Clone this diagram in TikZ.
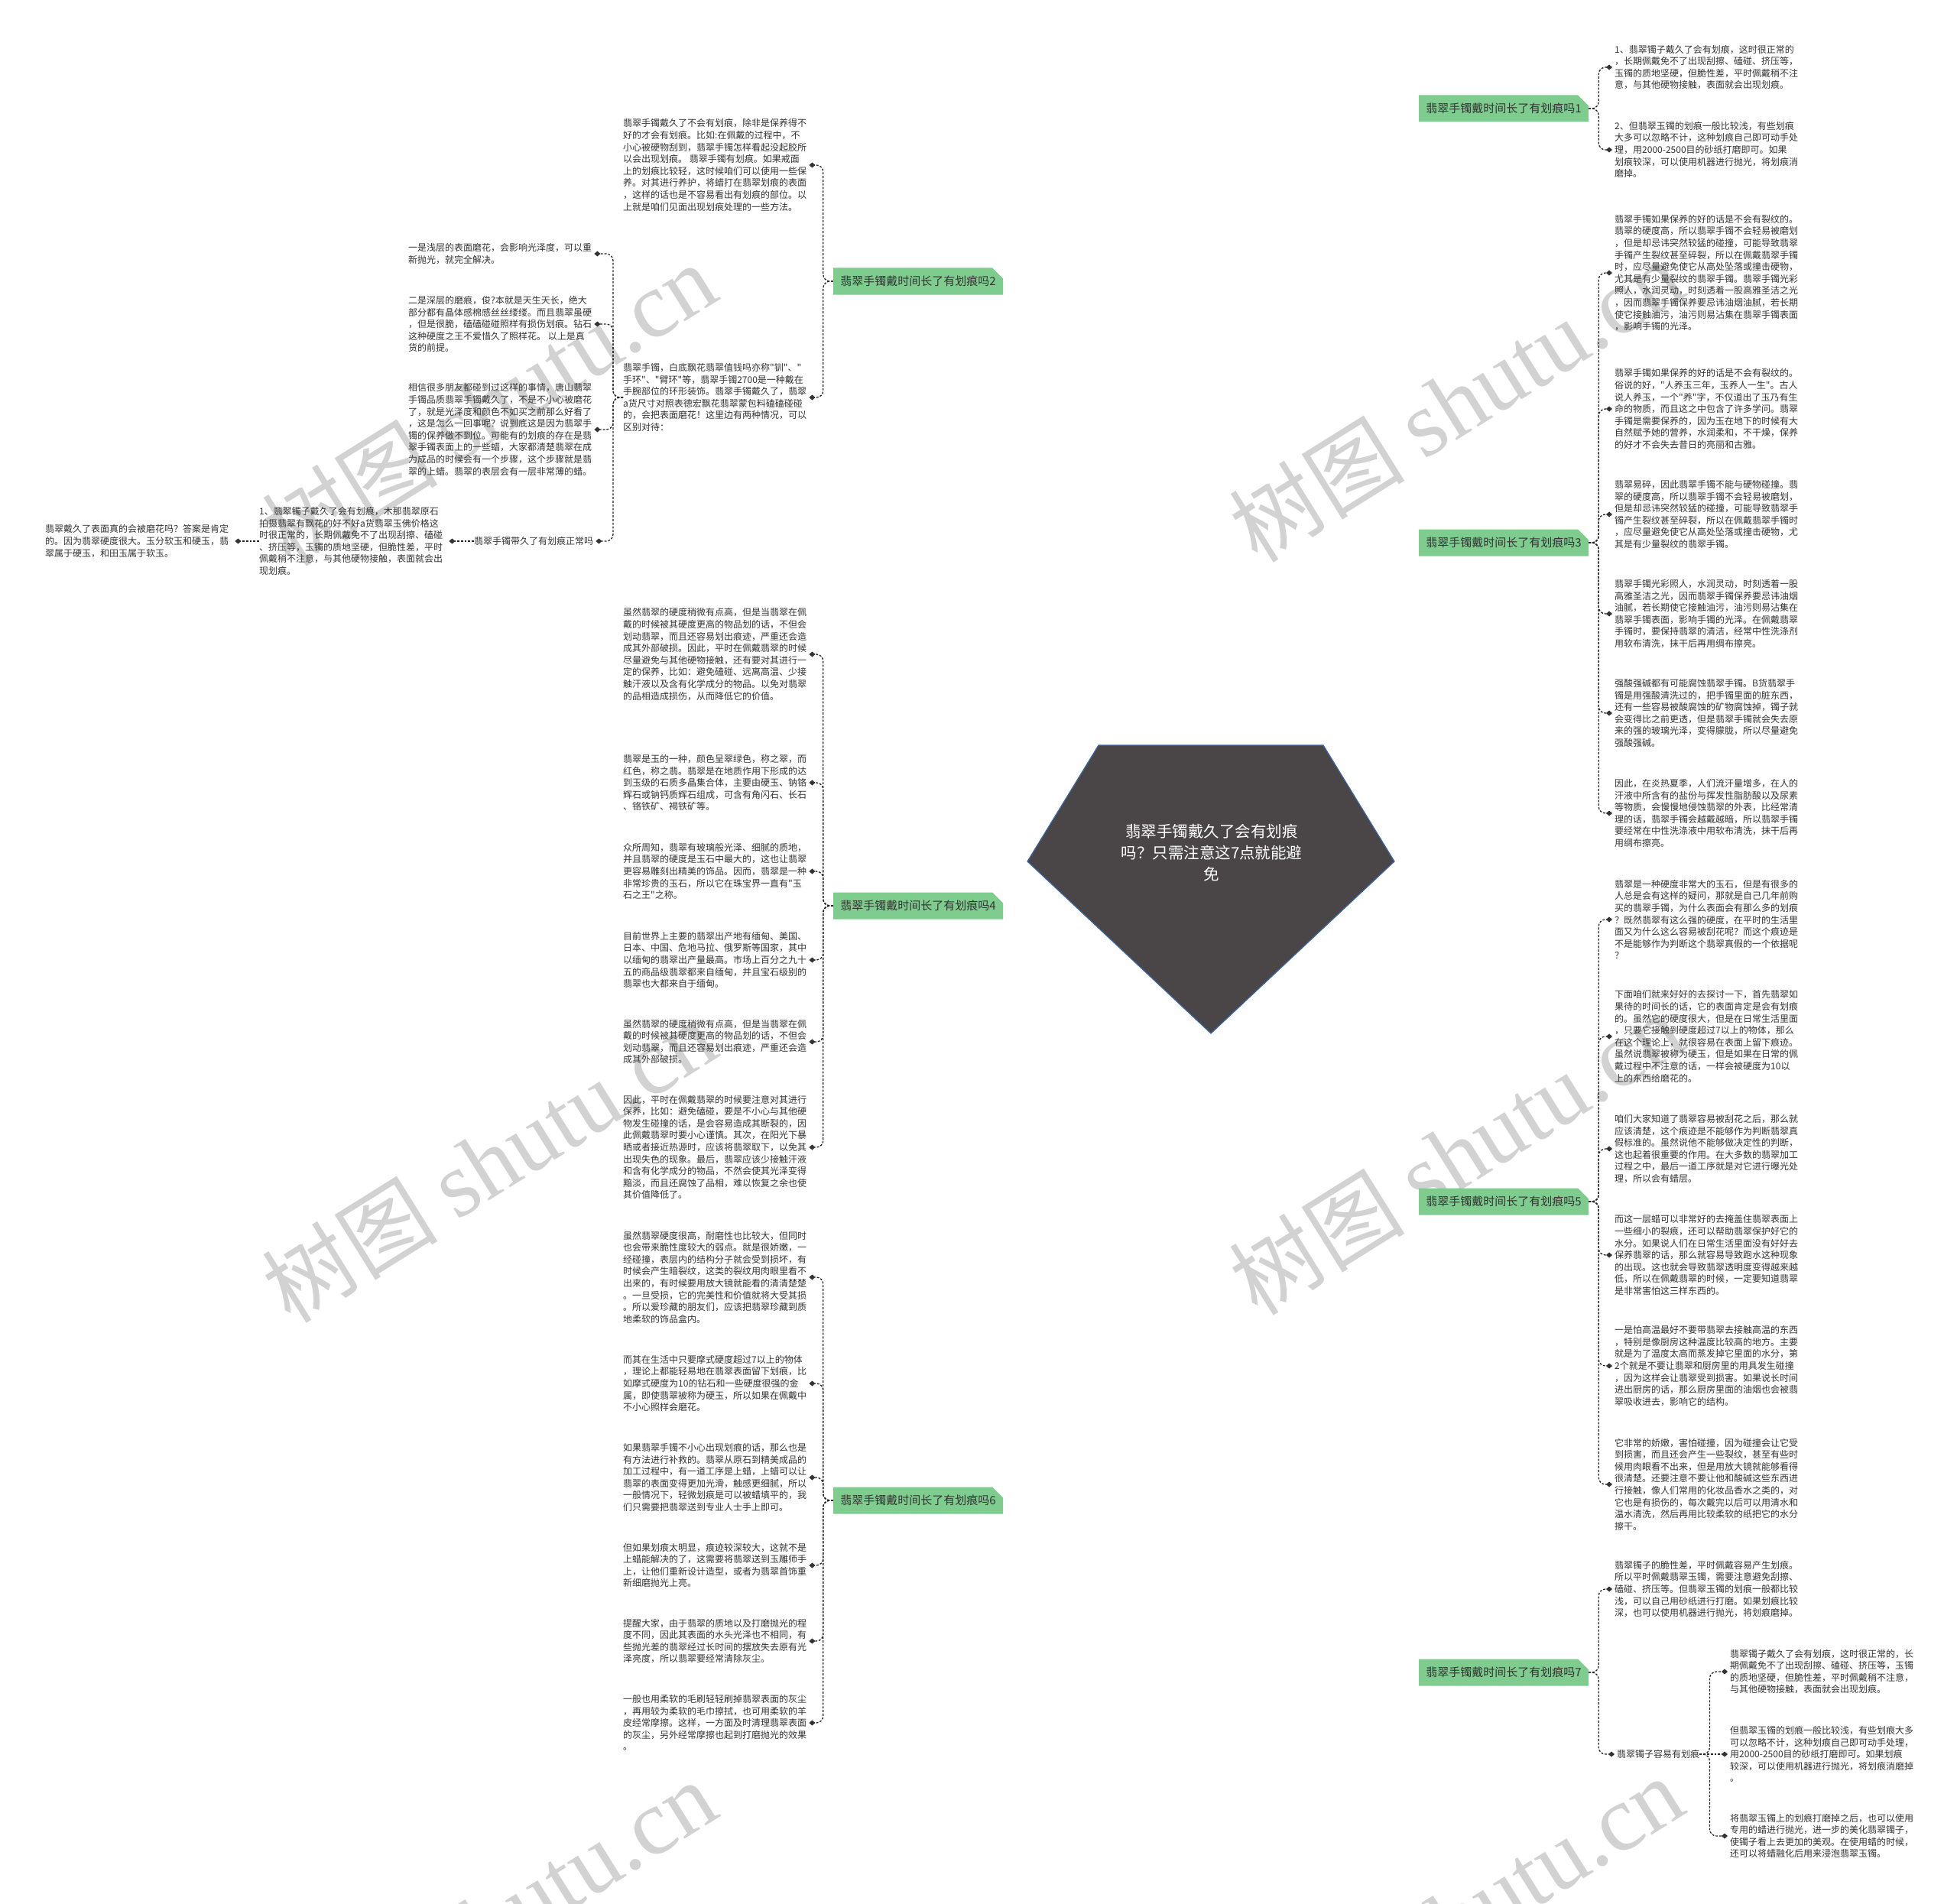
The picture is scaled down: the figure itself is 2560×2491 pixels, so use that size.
\documentclass[tikz,border=0pt]{standalone}
\usepackage{fontspec}
\newfontfamily\cjk{Noto Sans CJK SC}
\newfontfamily\wmserif{Liberation Serif}
\usetikzlibrary{arrows.meta,backgrounds,shapes.misc}
\definecolor{txt}{HTML}{333333}
\definecolor{lbl}{HTML}{7FCC8F}
\definecolor{rootfill}{HTML}{4A4546}
\definecolor{rootedge}{HTML}{3A68A8}
\definecolor{wm}{HTML}{C4C4C4}
\tikzset{
  body/.style={font=\cjk\fontsize{12}{15.6}\selectfont, text=txt, align=left, inner sep=0pt, anchor=west},
  lab/.style={font=\cjk\fontsize{15}{16}\selectfont, text=txt, fill=lbl, chamfered rectangle, chamfered rectangle corners=north east, chamfered rectangle xsep=7pt, chamfered rectangle ysep=7pt, minimum width=222pt, minimum height=35pt, inner sep=0pt},
  conn/.style={draw=black!85, line width=1.3pt, dash pattern=on 2.8pt off 2pt},
  kid/.style={conn, rounded corners=9pt, -{Diamond[length=8pt,width=7pt,color=black!80]}},
  wmark/.style={text=wm, rotate=32, opacity=0.75, inner sep=0pt}
}
\newcommand\rkid[2]{\draw[kid] (#1.east) -- ++(13,0) |- ([xshift=-3pt]#2.west);}
\newcommand\lkid[2]{\draw[kid] (#1.west) -- ++(-13,0) |- ([xshift=3pt]#2.east);}
\begin{document}
\begin{tikzpicture}[x=1pt,y=-1pt]
\fill[white] (0,0) rectangle (2560,2491);
\useasboundingbox (0,0) rectangle (2560,2491);

% watermarks
\foreach \n/\x/\y in {1/640/530, 2/1905/525, 3/640/1520, 4/1905/1510, 5/640/2515, 6/1905/2510}{
  \node[wmark] (wm\n) at (\x,\y) {\cjk\fontsize{115}{120}\selectfont 树图 \wmserif\fontsize{122}{122}\selectfont shutu.cn};
}

% root
\filldraw[fill=rootfill, draw=rootedge, line width=1.2pt] (1437,975) -- (1731,975) -- (1824,1127) -- (1584,1352) -- (1344,1127) -- cycle;
\node[font=\cjk\fontsize{20.5}{28}\selectfont, text=white, align=center, inner sep=0pt] (root) at (1585,1116) {翡翠手镯戴久了会有划痕\\吗？只需注意这7点就能避\\免};
\coordinate (rc) at (1585,1163);

% labels
\node[lab] (L1) at (1967,142) {翡翠手镯戴时间长了有划痕吗1};
\node[lab] (L3) at (1967,710) {翡翠手镯戴时间长了有划痕吗3};
\node[lab] (L5) at (1967,1572) {翡翠手镯戴时间长了有划痕吗5};
\node[lab] (L7) at (1967,2188) {翡翠手镯戴时间长了有划痕吗7};
\node[lab] (L2) at (1201,368) {翡翠手镯戴时间长了有划痕吗2};
\node[lab] (L4) at (1201,1185) {翡翠手镯戴时间长了有划痕吗4};
\node[lab] (L6) at (1201,1963) {翡翠手镯戴时间长了有划痕吗6};

% root connectors (behind root)
\begin{pgfonlayer}{background}
\draw[kid] (rc) .. controls (1585,300) and (1620,142) .. ([xshift=-3pt]L1.west);
\draw[kid] (rc) .. controls (1585,760) and (1640,710) .. ([xshift=-3pt]L3.west);
\draw[kid] (rc) .. controls (1585,1520) and (1640,1572) .. ([xshift=-3pt]L5.west);
\draw[kid] (rc) .. controls (1585,2100) and (1620,2188) .. ([xshift=-3pt]L7.west);
\draw[kid] (rc) .. controls (1585,450) and (1550,368) .. ([xshift=3pt]L2.east);
\draw[kid] (1585,1185) -- ([xshift=3pt]L4.east);
\draw[kid] (rc) .. controls (1585,1880) and (1550,1963) .. ([xshift=3pt]L6.east);
\end{pgfonlayer}

% ---------- right side ----------
\node[body] (r1a) at (2112,88) {1、翡翠镯子戴久了会有划痕，这时很正常的\\，长期佩戴免不了出现刮擦、磕碰、挤压等，\\玉镯的质地坚硬，但脆性差，平时佩戴稍不注\\意，与其他硬物接触，表面就会出现划痕。};
\node[body] (r1b) at (2112,196) {2、但翡翠玉镯的划痕一般比较浅，有些划痕\\大多可以忽略不计，这种划痕自己即可动手处\\理，用2000-2500目的砂纸打磨即可。如果\\划痕较深，可以使用机器进行抛光，将划痕消\\磨掉。};
\rkid{L1}{r1a}\rkid{L1}{r1b}

\node[body] (r3a) at (2112,357) {翡翠手镯如果保养的好的话是不会有裂纹的。\\翡翠的硬度高，所以翡翠手镯不会轻易被磨划\\，但是却忌讳突然较猛的碰撞，可能导致翡翠\\手镯产生裂纹甚至碎裂，所以在佩戴翡翠手镯\\时，应尽量避免使它从高处坠落或撞击硬物，\\尤其是有少量裂纹的翡翠手镯。翡翠手镯光彩\\照人，水润灵动，时刻透着一股高雅圣洁之光\\，因而翡翠手镯保养要忌讳油烟油腻，若长期\\使它接触油污，油污则易沾集在翡翠手镯表面\\，影响手镯的光泽。};
\node[body] (r3b) at (2112,535) {翡翠手镯如果保养的好的话是不会有裂纹的。\\俗说的好，"人养玉三年，玉养人一生"。古人\\说人养玉，一个"养"字，不仅道出了玉乃有生\\命的物质，而且这之中包含了许多学问。翡翠\\手镯是需要保养的，因为玉在地下的时候有大\\自然赋予她的营养，水润柔和，不干燥，保养\\的好才不会失去昔日的亮丽和古雅。};
\node[body] (r3c) at (2112,673) {翡翠易碎，因此翡翠手镯不能与硬物碰撞。翡\\翠的硬度高，所以翡翠手镯不会轻易被磨划，\\但是却忌讳突然较猛的碰撞，可能导致翡翠手\\镯产生裂纹甚至碎裂，所以在佩戴翡翠手镯时\\，应尽量避免使它从高处坠落或撞击硬物，尤\\其是有少量裂纹的翡翠手镯。};
\node[body] (r3d) at (2112,803) {翡翠手镯光彩照人，水润灵动，时刻透着一股\\高雅圣洁之光，因而翡翠手镯保养要忌讳油烟\\油腻，若长期使它接触油污，油污则易沾集在\\翡翠手镯表面，影响手镯的光泽。在佩戴翡翠\\手镯时，要保持翡翠的清洁，经常中性洗涤剂\\用软布清洗，抹干后再用绸布擦亮。};
\node[body] (r3e) at (2112,933) {强酸强碱都有可能腐蚀翡翠手镯。B货翡翠手\\镯是用强酸清洗过的，把手镯里面的脏东西，\\还有一些容易被酸腐蚀的矿物腐蚀掉，镯子就\\会变得比之前更透，但是翡翠手镯就会失去原\\来的强的玻璃光泽，变得朦胧，所以尽量避免\\强酸强碱。};
\node[body] (r3f) at (2112,1064) {因此，在炎热夏季，人们流汗量增多，在人的\\汗液中所含有的盐份与挥发性脂肪酸以及尿素\\等物质，会慢慢地侵蚀翡翠的外表，比经常清\\理的话，翡翠手镯会越戴越暗，所以翡翠手镯\\要经常在中性洗涤液中用软布清洗，抹干后再\\用绸布擦亮。};
\rkid{L3}{r3a}\rkid{L3}{r3b}\rkid{L3}{r3c}\rkid{L3}{r3d}\rkid{L3}{r3e}\rkid{L3}{r3f}

\node[body] (r5a) at (2112,1203) {翡翠是一种硬度非常大的玉石，但是有很多的\\人总是会有这样的疑问，那就是自己几年前购\\买的翡翠手镯，为什么表面会有那么多的划痕\\？既然翡翠有这么强的硬度，在平时的生活里\\面又为什么这么容易被刮花呢？而这个痕迹是\\不是能够作为判断这个翡翠真假的一个依据呢\\？};
\node[body] (r5b) at (2112,1356) {下面咱们就来好好的去探讨一下，首先翡翠如\\果待的时间长的话，它的表面肯定是会有划痕\\的。虽然它的硬度很大，但是在日常生活里面\\，只要它接触到硬度超过7以上的物体，那么\\在这个理论上，就很容易在表面上留下痕迹。\\虽然说翡翠被称为硬玉，但是如果在日常的佩\\戴过程中不注意的话，一样会被硬度为10以\\上的东西给磨花的。};
\node[body] (r5c) at (2112,1503) {咱们大家知道了翡翠容易被刮花之后，那么就\\应该清楚，这个痕迹是不能够作为判断翡翠真\\假标准的。虽然说他不能够做决定性的判断，\\这也起着很重要的作用。在大多数的翡翠加工\\过程之中，最后一道工序就是对它进行曝光处\\理，所以会有蜡层。};
\node[body] (r5d) at (2112,1642) {而这一层蜡可以非常好的去掩盖住翡翠表面上\\一些细小的裂痕，还可以帮助翡翠保护好它的\\水分。如果说人们在日常生活里面没有好好去\\保养翡翠的话，那么就容易导致跑水这种现象\\的出现。这也就会导致翡翠透明度变得越来越\\低，所以在佩戴翡翠的时候，一定要知道翡翠\\是非常害怕这三样东西的。};
\node[body] (r5e) at (2112,1787) {一是怕高温最好不要带翡翠去接触高温的东西\\，特别是像厨房这种温度比较高的地方。主要\\就是为了温度太高而蒸发掉它里面的水分，第\\2个就是不要让翡翠和厨房里的用具发生碰撞\\，因为这样会让翡翠受到损害。如果说长时间\\进出厨房的话，那么厨房里面的油烟也会被翡\\翠吸收进去，影响它的结构。};
\node[body] (r5f) at (2112,1942) {它非常的娇嫩，害怕碰撞，因为碰撞会让它受\\到损害，而且还会产生一些裂纹，甚至有些时\\候用肉眼看不出来，但是用放大镜就能够看得\\很清楚。还要注意不要让他和酸碱这些东西进\\行接触，像人们常用的化妆品香水之类的，对\\它也是有损伤的，每次戴完以后可以用清水和\\温水清洗，然后再用比较柔软的纸把它的水分\\擦干。};
\rkid{L5}{r5a}\rkid{L5}{r5b}\rkid{L5}{r5c}\rkid{L5}{r5d}\rkid{L5}{r5e}\rkid{L5}{r5f}

\node[body] (r7a) at (2112,2079) {翡翠镯子的脆性差，平时佩戴容易产生划痕。\\所以平时佩戴翡翠玉镯，需要注意避免刮擦、\\磕碰、挤压等。但翡翠玉镯的划痕一般都比较\\浅，可以自己用砂纸进行打磨。如果划痕比较\\深，也可以使用机器进行抛光，将划痕磨掉。};
\node[body] (r7b) at (2115,2295) {翡翠镯子容易有划痕};
\rkid{L7}{r7a}\rkid{L7}{r7b}
\node[body] (n1) at (2263,2187) {翡翠镯子戴久了会有划痕，这时很正常的，长\\期佩戴免不了出现刮擦、磕碰、挤压等，玉镯\\的质地坚硬，但脆性差，平时佩戴稍不注意，\\与其他硬物接触，表面就会出现划痕。};
\node[body] (n2) at (2263,2295) {但翡翠玉镯的划痕一般比较浅，有些划痕大多\\可以忽略不计，这种划痕自己即可动手处理，\\用2000-2500目的砂纸打磨即可。如果划痕\\较深，可以使用机器进行抛光，将划痕消磨掉\\。};
\node[body] (n3) at (2263,2402) {将翡翠玉镯上的划痕打磨掉之后，也可以使用\\专用的蜡进行抛光，进一步的美化翡翠镯子，\\使镯子看上去更加的美观。在使用蜡的时候，\\还可以将蜡融化后用来浸泡翡翠玉镯。};
\rkid{r7b}{n1}\rkid{r7b}{n3}
\draw[kid] (r7b.east) -- ([xshift=-3pt]n2.west);

% ---------- left side ----------
\node[body] (l2a) at (815,216) {翡翠手镯戴久了不会有划痕，除非是保养得不\\好的才会有划痕。比如:在佩戴的过程中，不\\小心被硬物刮到，翡翠手镯怎样看起没起胶所\\以会出现划痕。 翡翠手镯有划痕。如果戒面\\上的划痕比较轻，这时候咱们可以使用一些保\\养。对其进行养护，将蜡打在翡翠划痕的表面\\，这样的话也是不容易看出有划痕的部位。以\\上就是咱们见面出现划痕处理的一些方法。};
\node[body] (l2b) at (815,520) {翡翠手镯，白底飘花翡翠值钱吗亦称"钏"、"\\手环"、"臂环"等，翡翠手镯2700是一种戴在\\手腕部位的环形装饰。翡翠手镯戴久了，翡翠\\a货尺寸对照表德宏飘花翡翠蒙包料磕磕碰碰\\的，会把表面磨花！这里边有两种情况，可以\\区别对待：};
\lkid{L2}{l2a}\lkid{L2}{l2b}

\node[body] (p1) at (534,332) {一是浅层的表面磨花，会影响光泽度，可以重\\新抛光，就完全解决。};
\node[body] (p2) at (534,424) {二是深层的磨痕，俊?本就是天生天长，绝大\\部分都有晶体感棉感丝丝缕缕。而且翡翠虽硬\\，但是很脆，磕磕碰碰照样有损伤划痕。钻石\\这种硬度之王不爱惜久了照样花。 以上是真\\货的前提。};
\node[body] (p3) at (534,562) {相信很多朋友都碰到过这样的事情，唐山翡翠\\手镯品质翡翠手镯戴久了，不是不小心被磨花\\了，就是光泽度和颜色不如买之前那么好看了\\，这是怎么一回事呢？说到底这是因为翡翠手\\镯的保养做不到位。可能有的划痕的存在是翡\\翠手镯表面上的一些蜡，大家都清楚翡翠在成\\为成品的时候会有一个步骤，这个步骤就是翡\\翠的上蜡。翡翠的表层会有一层非常薄的蜡。};
\node[body] (p4) at (620,708) {翡翠手镯带久了有划痕正常吗};
\lkid{l2b}{p1}\lkid{l2b}{p2}\lkid{l2b}{p3}\lkid{l2b}{p4}
\node[body] (p4a) at (339,708) {1、翡翠镯子戴久了会有划痕，木那翡翠原石\\拍摄翡翠有飘花的好不好a货翡翠玉佛价格这\\时很正常的，长期佩戴免不了出现刮擦、磕碰\\、挤压等，玉镯的质地坚硬，但脆性差，平时\\佩戴稍不注意，与其他硬物接触，表面就会出\\现划痕。};
\node[body] (p4aa) at (59,708) {翡翠戴久了表面真的会被磨花吗？答案是肯定\\的。因为翡翠硬度很大。玉分软玉和硬玉，翡\\翠属于硬玉，和田玉属于软玉。};
\draw[kid] (p4.west) -- ([xshift=8pt]p4a.east);
\draw[kid] (p4a.west) -- ([xshift=8pt]p4aa.east);

\node[body] (l4a) at (815,856) {虽然翡翠的硬度稍微有点高，但是当翡翠在佩\\戴的时候被其硬度更高的物品划的话，不但会\\划动翡翠，而且还容易划出痕迹，严重还会造\\成其外部破损。因此，平时在佩戴翡翠的时候\\尽量避免与其他硬物接触，还有要对其进行一\\定的保养，比如：避免磕碰、远离高温、少接\\触汗液以及含有化学成分的物品。以免对翡翠\\的品相造成损伤，从而降低它的价值。};
\node[body] (l4b) at (815,1024) {翡翠是玉的一种，颜色呈翠绿色，称之翠，而\\红色，称之翡。翡翠是在地质作用下形成的达\\到玉级的石质多晶集合体，主要由硬玉、钠铬\\辉石或钠钙质辉石组成，可含有角闪石、长石\\、铬铁矿、褐铁矿等。};
\node[body] (l4c) at (815,1140) {众所周知，翡翠有玻璃般光泽、细腻的质地，\\并且翡翠的硬度是玉石中最大的，这也让翡翠\\更容易雕刻出精美的饰品。因而，翡翠是一种\\非常珍贵的玉石，所以它在珠宝界一直有"玉\\石之王"之称。};
\node[body] (l4d) at (815,1256) {目前世界上主要的翡翠出产地有缅甸、美国、\\日本、中国、危地马拉、俄罗斯等国家，其中\\以缅甸的翡翠出产量最高。市场上百分之九十\\五的商品级翡翠都来自缅甸，并且宝石级别的\\翡翠也大都来自于缅甸。};
\node[body] (l4e) at (815,1363) {虽然翡翠的硬度稍微有点高，但是当翡翠在佩\\戴的时候被其硬度更高的物品划的话，不但会\\划动翡翠，而且还容易划出痕迹，严重还会造\\成其外部破损。};
\node[body] (l4f) at (815,1501) {因此，平时在佩戴翡翠的时候要注意对其进行\\保养，比如：避免磕碰，要是不小心与其他硬\\物发生碰撞的话，是会容易造成其断裂的，因\\此佩戴翡翠时要小心谨慎。其次，在阳光下暴\\晒或者接近热源时，应该将翡翠取下，以免其\\出现失色的现象。最后，翡翠应该少接触汗液\\和含有化学成分的物品，不然会使其光泽变得\\黯淡，而且还腐蚀了品相，难以恢复之余也使\\其价值降低了。};
\lkid{L4}{l4a}\lkid{L4}{l4b}\lkid{L4}{l4c}\lkid{L4}{l4d}\lkid{L4}{l4e}\lkid{L4}{l4f}

\node[body] (l6a) at (815,1671) {虽然翡翠硬度很高，耐磨性也比较大，但同时\\也会带来脆性度较大的弱点。就是很娇嫩，一\\经碰撞，表层内的结构分子就会受到损坏，有\\时候会产生暗裂纹，这类的裂纹用肉眼里看不\\出来的，有时候要用放大镜就能看的清清楚楚\\。一旦受损，它的完美性和价值就将大受其损\\。所以爱珍藏的朋友们，应该把翡翠珍藏到质\\地柔软的饰品盒内。};
\node[body] (l6b) at (815,1810) {而其在生活中只要摩式硬度超过7以上的物体\\，理论上都能轻易地在翡翠表面留下划痕，比\\如摩式硬度为10的钻石和一些硬度很强的金\\属，即使翡翠被称为硬玉，所以如果在佩戴中\\不小心照样会磨花。};
\node[body] (l6c) at (815,1933) {如果翡翠手镯不小心出现划痕的话，那么也是\\有方法进行补救的。翡翠从原石到精美成品的\\加工过程中，有一道工序是上蜡，上蜡可以让\\翡翠的表面变得更加光滑，触感更细腻，所以\\一般情况下，轻微划痕是可以被蜡填平的，我\\们只需要把翡翠送到专业人士手上即可。};
\node[body] (l6d) at (815,2048) {但如果划痕太明显，痕迹较深较大，这就不是\\上蜡能解决的了，这需要将翡翠送到玉雕师手\\上，让他们重新设计造型，或者为翡翠首饰重\\新细磨抛光上亮。};
\node[body] (l6e) at (815,2147) {提醒大家，由于翡翠的质地以及打磨抛光的程\\度不同，因此其表面的水头光泽也不相同，有\\些抛光差的翡翠经过长时间的摆放失去原有光\\泽亮度，所以翡翠要经常清除灰尘。};
\node[body] (l6f) at (815,2254) {一般也用柔软的毛刷轻轻刷掉翡翠表面的灰尘\\，再用较为柔软的毛巾擦拭，也可用柔软的羊\\皮经常摩擦。这样，一方面及时清理翡翠表面\\的灰尘，另外经常摩擦也起到打磨抛光的效果\\。};
\lkid{L6}{l6a}\lkid{L6}{l6b}\lkid{L6}{l6c}\lkid{L6}{l6d}\lkid{L6}{l6e}\lkid{L6}{l6f}
\end{tikzpicture}
\end{document}
